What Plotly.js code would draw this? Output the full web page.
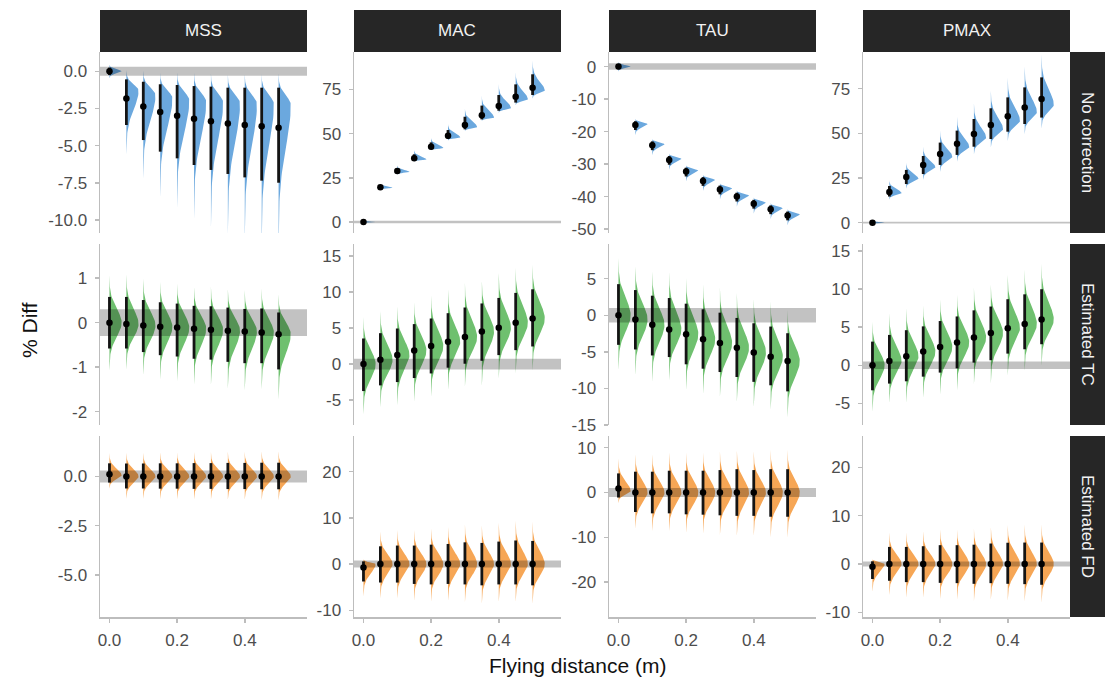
<!DOCTYPE html>
<html><head><meta charset="utf-8">
<script src="https://cdn.plot.ly/plotly-3.0.1.min.js"></script>
<style>html,body{margin:0;padding:0;background:#fff}#chart{width:1105px;height:684px}</style>
</head><body><div id="chart"></div><script>
// ---------- data ----------
const distance = [0, 0.05, 0.1, 0.15, 0.2, 0.25, 0.3, 0.35, 0.4, 0.45, 0.5];
const parameters = ['MSS', 'MAC', 'TAU', 'PMAX'];
const corrections = ['No correction', 'Estimated TC', 'Estimated FD'];
const bandHalfWidth = [0.3, 0.75, 1.0, 0.5];   // per parameter
const xTickLabels = ['0.0', '0.2', '0.4'];

// No correction
const none_MSS_med  = [0, -1.82, -2.37, -2.73, -2.98, -3.18, -3.36, -3.5, -3.61, -3.7, -3.79];
const none_MSS_lo   = [-0.25, -3.61, -4.62, -5.4, -5.85, -6.3, -6.63, -6.9, -7.13, -7.35, -7.49];
const none_MSS_hi   = [0.25, -0.54, -0.7, -0.87, -0.92, -0.99, -1.03, -1.1, -1.1, -1.1, -1.1];
const none_MSS_mode = [0, -1.3, -1.6, -1.8, -1.95, -2.05, -2.1, -2.15, -2.2, -2.2, -2.25];

const none_MAC_med  = [0, 19.6, 28.8, 36.0, 42.6, 48.8, 54.8, 60.3, 65.6, 70.8, 75.9];
const none_MAC_lo   = [-0.4, 18.8, 27.5, 34.7, 41.1, 46.9, 52.4, 58.0, 62.9, 67.5, 71.8];
const none_MAC_hi   = [0.4, 20.5, 30.3, 38.3, 45.0, 52.0, 59.5, 65.8, 71.8, 77.8, 83.5];
const none_MAC_mode = [0, 19.4, 28.3, 35.3, 41.8, 47.8, 53.6, 59.0, 64.3, 69.3, 74.2];

const none_TAU_med  = [0, -18.0, -24.2, -28.7, -32.3, -35.2, -37.8, -40.0, -42.2, -43.9, -45.8];
const none_TAU_lo   = [-0.8, -19.5, -25.7, -30.2, -33.8, -36.7, -39.3, -41.5, -43.7, -45.4, -47.3];
const none_TAU_hi   = [0.8, -16.8, -23.0, -27.5, -31.1, -34.0, -36.6, -38.8, -41.0, -42.7, -44.6];
const none_TAU_mode = [0, -17.7, -23.9, -28.4, -32.0, -34.9, -37.5, -39.7, -41.9, -43.6, -45.5];

const none_PMAX_med  = [0, 17.2, 25.6, 32.3, 38.4, 44.2, 49.6, 54.7, 59.5, 64.4, 69.2];
const none_PMAX_lo   = [-0.4, 14.6, 21.6, 27.2, 32.3, 37.9, 42.5, 46.8, 50.9, 55.2, 58.8];
const none_PMAX_hi   = [0.4, 20.5, 29.5, 37.3, 44.8, 51.5, 58.0, 64.0, 70.1, 75.7, 81.3];
const none_PMAX_mode = [0, 16.5, 24.5, 31.0, 36.8, 42.3, 47.4, 52.3, 57.0, 61.8, 66.0];

// Estimated TC
const tc_MSS_med = [0, -0.03, -0.06, -0.09, -0.11, -0.135, -0.16, -0.18, -0.195, -0.22, -0.26];
const tc_MSS_lo  = [-0.58, -0.58, -0.66, -0.73, -0.76, -0.81, -0.83, -0.88, -0.91, -0.91, -1.05];
const tc_MSS_hi  = [0.58, 0.58, 0.51, 0.46, 0.43, 0.38, 0.37, 0.34, 0.31, 0.32, 0.23];

const tc_MAC_med = [0, 0.6, 1.25, 1.9, 2.5, 3.1, 3.75, 4.54, 5.05, 5.74, 6.34];
const tc_MAC_lo  = [-3.75, -2.96, -2.5, -1.94, -1.3, -0.5, 0.05, 0.46, 1.25, 1.94, 2.45];
const tc_MAC_hi  = [3.56, 4.3, 4.95, 5.56, 6.34, 7.08, 7.87, 8.43, 9.2, 9.9, 10.4];

const tc_TAU_med = [0, -0.59, -1.3, -1.95, -2.58, -3.27, -3.8, -4.44, -5.08, -5.67, -6.26];
const tc_TAU_lo  = [-4.04, -4.67, -5.49, -5.71, -6.7, -7.3, -7.76, -8.44, -9.1, -9.57, -10.4];
const tc_TAU_hi  = [4.26, 3.45, 2.68, 2.36, 1.59, 0.82, 0.36, -0.36, -1.09, -1.54, -2.45];

const tc_PMAX_med = [0, 0.57, 1.18, 1.79, 2.4, 3.0, 3.63, 4.24, 4.86, 5.42, 6.0];
const tc_PMAX_lo  = [-3.28, -2.4, -2.1, -1.49, -0.96, -0.4, 0.35, 0.66, 1.53, 2.1, 2.76];
const tc_PMAX_hi  = [3.1, 3.98, 4.6, 5.1, 5.8, 6.4, 7.2, 7.7, 8.66, 9.3, 9.97];

// Estimated FD
const fd_MSS_med  = [0.12, 0, 0, 0, 0, 0, 0, 0, 0, 0, 0];
const fd_MSS_lo   = [-0.31, -0.61, -0.61, -0.62, -0.62, -0.63, -0.63, -0.64, -0.64, -0.65, -0.65];
const fd_MSS_hi   = [0.67, 0.66, 0.66, 0.67, 0.67, 0.68, 0.68, 0.69, 0.69, 0.70, 0.70];
const fd_MSS_mode = [0.05, 0, 0, 0, 0, 0, 0, 0, 0, 0, 0];

const fd_MAC_med  = [-0.72, 0, 0, 0, 0, 0, 0, 0, 0, 0, 0];
const fd_MAC_lo   = [-3.77, -3.99, -4.0, -4.3, -4.4, -4.3, -4.4, -4.6, -4.4, -4.4, -4.6];
const fd_MAC_hi   = [0.58, 3.84, 4.0, 4.0, 4.2, 4.35, 4.7, 4.57, 4.86, 5.1, 5.0];
const fd_MAC_mode = [0, 0, 0, 0, 0, 0, 0, 0, 0, 0, 0];

const fd_TAU_med  = [0.9, 0, 0, 0, 0, 0, 0, 0, 0, 0, 0];
const fd_TAU_lo   = [-1.12, -4.34, -4.64, -4.64, -4.86, -4.94, -5.08, -5.2, -5.2, -5.4, -5.4];
const fd_TAU_hi   = [4.26, 4.64, 4.64, 4.86, 4.86, 4.86, 5.0, 5.2, 5.0, 5.2, 5.2];
const fd_TAU_mode = [0.3, 0, 0, 0, 0, 0, 0, 0, 0, 0, 0];

const fd_PMAX_med  = [-0.56, 0, 0, 0, 0, 0, 0, 0, 0, 0, 0];
const fd_PMAX_lo   = [-3.1, -3.47, -3.75, -3.75, -3.9, -3.96, -4.1, -3.96, -4.1, -4.17, -4.3];
const fd_PMAX_hi   = [0.56, 3.54, 3.54, 3.68, 3.9, 3.9, 4.0, 4.24, 4.4, 4.44, 4.44];
const fd_PMAX_mode = [0, 0, 0, 0, 0, 0, 0, 0, 0, 0, 0];

// y tick labels per panel (row-major)
const yTickLabels = [
  ['0.0', '-2.5', '-5.0', '-7.5', '-10.0'], ['0', '25', '50', '75'], ['0', '-10', '-20', '-30', '-40', '-50'], ['0', '25', '50', '75'],
  ['1', '0', '-1', '-2'], ['-5', '0', '5', '10', '15'], ['5', '0', '-5', '-10', '-15'], ['-5', '0', '5', '10', '15'],
  ['0.0', '-2.5', '-5.0'], ['-10', '0', '10', '20'], ['10', '0', '-10', '-20'], ['-10', '0', '10', '20']
];

// ---------- layout geometry / styles ----------
const panels = [
  [none_MSS_med, none_MSS_lo, none_MSS_hi, none_MSS_mode], [none_MAC_med, none_MAC_lo, none_MAC_hi, none_MAC_mode],
  [none_TAU_med, none_TAU_lo, none_TAU_hi, none_TAU_mode], [none_PMAX_med, none_PMAX_lo, none_PMAX_hi, none_PMAX_mode],
  [tc_MSS_med, tc_MSS_lo, tc_MSS_hi, null], [tc_MAC_med, tc_MAC_lo, tc_MAC_hi, null],
  [tc_TAU_med, tc_TAU_lo, tc_TAU_hi, null], [tc_PMAX_med, tc_PMAX_lo, tc_PMAX_hi, null],
  [fd_MSS_med, fd_MSS_lo, fd_MSS_hi, fd_MSS_mode], [fd_MAC_med, fd_MAC_lo, fd_MAC_hi, fd_MAC_mode],
  [fd_TAU_med, fd_TAU_lo, fd_TAU_hi, fd_TAU_mode], [fd_PMAX_med, fd_PMAX_lo, fd_PMAX_hi, fd_PMAX_mode]
];
const yRanges = [
  [-10.87, 1.3], [-6.2, 96.1], [-51.2, 4.5], [-5.8, 95.5],
  [-2.3, 1.77], [-8.47, 16.7], [-15.0, 9.75], [-7.83, 15.9],
  [-7.15, 2.06], [-11.45, 27.7], [-27.75, 12.6], [-10.97, 26.5]
];
const rowColors = ['#6ba8de', '#6fc06f', '#f6a655'];
const FW = 1105, FH = 684;
const colL = [100, 354, 609, 863], colR = [307, 561, 816, 1070];
const rowT = [52, 244, 436], rowB = [233, 425, 617];
const xRange = [-0.028, 0.584];
const VW = 0.036;
const axisGrey = '#bdbdbd';
const tickFont = {family: 'Liberation Sans, Arial, sans-serif', size: 17, color: '#4d4d4d'};

function violinOutline(x0, m, lo, hi) {
  const sl = Math.max((m - lo) / 1.85, 0.02), sh = Math.max((hi - m) / 1.85, 0.02);
  const xs = [], ys = [], N = 40, Z = 3.4;
  for (let i = 0; i <= N; i++) { const z = -Z + Z * i / N; ys.push(m + z * sl); xs.push(x0 + VW * Math.exp(-0.5 * z * z)); }
  for (let i = 1; i <= N; i++) { const z = Z * i / N; ys.push(m + z * sh); xs.push(x0 + VW * Math.exp(-0.5 * z * z)); }
  xs.push(x0, x0, null); ys.push(m + Z * sh, m - Z * sl, null);
  return [xs, ys];
}

const traces = [], shapes = [], annotations = [];
const layout = {
  width: FW, height: FH, margin: {l: 0, r: 0, t: 0, b: 0},
  paper_bgcolor: '#fff', plot_bgcolor: '#fff', showlegend: false,
  font: {family: 'Liberation Sans, Arial, sans-serif'}
};

for (let r = 0; r < 3; r++) {
  for (let c = 0; c < 4; c++) {
    const k = r * 4 + c + 1;
    const xa = k === 1 ? 'x' : 'x' + k, ya = k === 1 ? 'y' : 'y' + k;
    const [med, lo, hi, mode] = panels[k - 1];
    const vx = [], vy = [], bx = [], by = [];
    distance.forEach((d, i) => {
      const m = mode ? mode[i] : med[i];
      const [xs, ys] = violinOutline(d, m, lo[i], hi[i]);
      vx.push(...xs); vy.push(...ys);
      bx.push(d, d, null); by.push(lo[i], hi[i], null);
    });
    traces.push({type: 'scatter', mode: 'lines', x: vx, y: vy, xaxis: xa, yaxis: ya, fill: 'toself',
      fillcolor: rowColors[r], line: {width: 0, color: rowColors[r]}, hoverinfo: 'skip'});
    traces.push({type: 'scatter', mode: 'lines', x: bx, y: by, xaxis: xa, yaxis: ya,
      line: {width: 2.8, color: '#141414'}, hoverinfo: 'skip'});
    traces.push({type: 'scatter', mode: 'markers', x: distance, y: med, xaxis: xa, yaxis: ya,
      marker: {size: 6.5, color: '#000'}, hoverinfo: 'skip'});

    const tl = yTickLabels[k - 1];
    layout['xaxis' + (k === 1 ? '' : k)] = {
      domain: [colL[c] / FW, colR[c] / FW], range: xRange, anchor: ya,
      showline: r === 2, linecolor: axisGrey, linewidth: 1.5,
      ticks: r === 2 ? 'outside' : '', ticklen: 4, tickcolor: axisGrey, tickwidth: 1.5,
      showticklabels: r === 2, tickvals: xTickLabels.map(Number), ticktext: xTickLabels,
      tickfont: tickFont, ticklabelstandoff: 3, showgrid: false, zeroline: false
    };
    layout['yaxis' + (k === 1 ? '' : k)] = {
      domain: [1 - rowB[r] / FH, 1 - rowT[r] / FH], range: yRanges[k - 1], anchor: xa,
      showline: true, linecolor: axisGrey, linewidth: 1.5,
      ticks: 'outside', ticklen: 4, tickcolor: axisGrey, tickwidth: 1.5,
      tickvals: tl.map(Number), ticktext: tl, tickfont: tickFont, ticklabelstandoff: 4,
      showgrid: false, zeroline: false
    };
    const b = bandHalfWidth[c];
    shapes.push({type: 'rect', xref: xa + ' domain', yref: ya, x0: 0, x1: 1, y0: -b, y1: b,
      fillcolor: 'rgba(0,0,0,0.24)', line: {width: 0}, layer: 'above'});
  }
}

// strips
const stripFill = '#262626';
parameters.forEach((p, c) => {
  shapes.push({type: 'rect', xref: 'paper', yref: 'paper', x0: colL[c] / FW, x1: colR[c] / FW,
    y0: 1 - 52 / FH, y1: 1 - 10 / FH, fillcolor: stripFill, line: {width: 0}});
  annotations.push({xref: 'paper', yref: 'paper', x: (colL[c] + colR[c]) / 2 / FW, y: 1 - 31 / FH,
    text: p, showarrow: false, font: {size: 17, color: '#f2f2f2'}, xanchor: 'center', yanchor: 'middle'});
});
corrections.forEach((t, r) => {
  shapes.push({type: 'rect', xref: 'paper', yref: 'paper', x0: 1070 / FW, x1: 1,
    y0: 1 - rowB[r] / FH, y1: 1 - rowT[r] / FH, fillcolor: stripFill, line: {width: 0}});
  annotations.push({xref: 'paper', yref: 'paper', x: 1087.5 / FW, y: 1 - (rowT[r] + rowB[r]) / 2 / FH,
    text: t, textangle: 90, showarrow: false, font: {size: 17, color: '#f2f2f2'}, xanchor: 'center', yanchor: 'middle'});
});
annotations.push({xref: 'paper', yref: 'paper', x: 577 / FW, y: 1 - 665 / FH, text: 'Flying distance (m)',
  showarrow: false, font: {size: 21, color: '#111'}, xanchor: 'center', yanchor: 'middle'});
annotations.push({xref: 'paper', yref: 'paper', x: 30 / FW, y: 1 - 330 / FH, text: '% Diff', textangle: -90,
  showarrow: false, font: {size: 21, color: '#111'}, xanchor: 'center', yanchor: 'middle'});

layout.shapes = shapes;
layout.annotations = annotations;
Plotly.newPlot('chart', traces, layout, {staticPlot: true, displayModeBar: false});
</script></body></html>
